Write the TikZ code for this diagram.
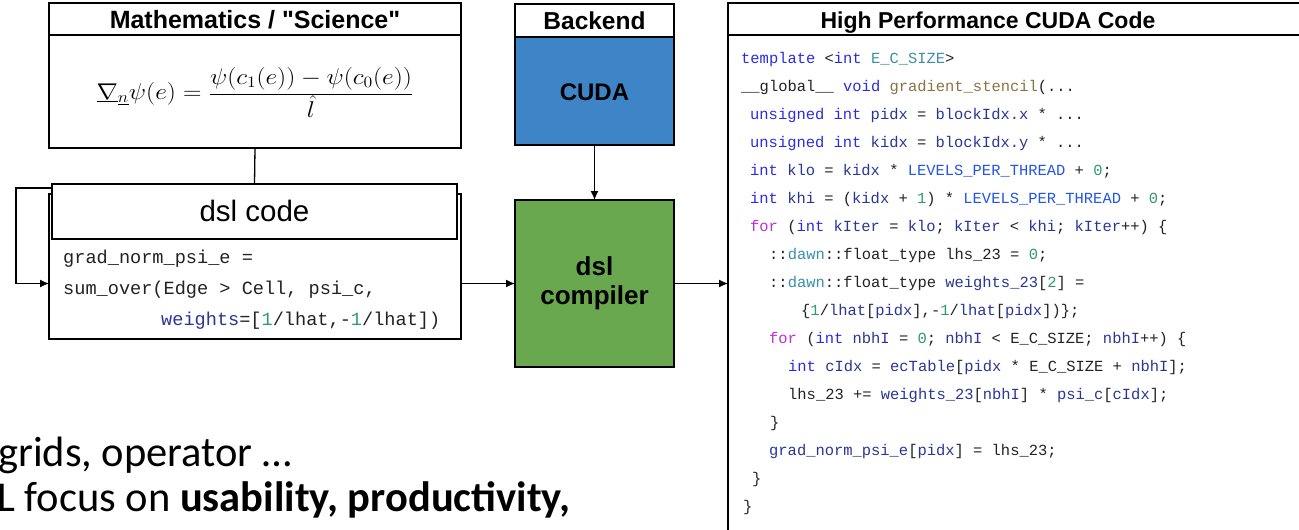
\documentclass[tikz,border=0pt]{standalone}
\usepackage{fontspec}
\usepackage{graphicx}
\usetikzlibrary{arrows.meta,calc}

\newfontfamily\hdfont{Liberation Sans}
\newfontfamily\codefont{Liberation Mono}
\newfontfamily\slidefont{Carlito}

% syntax colours of the code listings
\definecolor{ink}{HTML}{222222}
\definecolor{kwcol}{HTML}{2B2BE3}
\definecolor{ctlcol}{HTML}{C02ED6}
\definecolor{numcol}{HTML}{2E9A6E}
\definecolor{fncol}{HTML}{8A7243}
\definecolor{varcol}{HTML}{2A3596}
\definecolor{typecol}{HTML}{3A90AA}
\definecolor{maccol}{HTML}{2456E6}
\definecolor{cudablue}{HTML}{3D85C6}
\definecolor{compgreen}{HTML}{6AA84F}

\newcommand\ckw[1]{\textcolor{kwcol}{#1}}
\newcommand\cctl[1]{\textcolor{ctlcol}{#1}}
\newcommand\cnum[1]{\textcolor{numcol}{#1}}
\newcommand\cfn[1]{\textcolor{fncol}{#1}}
\newcommand\cvar[1]{\textcolor{varcol}{#1}}
\newcommand\ctype[1]{\textcolor{typecol}{#1}}
\newcommand\cmac[1]{\textcolor{maccol}{#1}}

\tikzset{
  box/.style={draw=black, line width=1.6pt, rectangle, inner sep=0pt, outer sep=0pt, anchor=north west},
  title/.style={font=\hdfont\bfseries\fontsize{23}{26}\selectfont, text=black, inner sep=0pt, anchor=base},
  conn/.style={draw=black, line width=1.3pt},
  arr/.style={conn, -{Latex[length=9pt,width=8pt]}},
  codeline/.style={anchor=base west, inner sep=0pt, text=ink,
    font=\codefont\fontsize{15.45}{18}\selectfont\frenchspacing},
  dslline/.style={anchor=base west, inner sep=0pt, text=ink,
    font=\codefont\fontsize{18.6}{22}\selectfont\frenchspacing},
  slide/.style={anchor=base west, inner sep=0pt, text=black,
    font=\slidefont\fontsize{42.5}{46}\selectfont},
}

\begin{document}
\begin{tikzpicture}[x=1pt,y=-1pt]
\useasboundingbox (0,0) rectangle (1299,530);
\clip (0,0) rectangle (1299,530);

% --- mathematics box
\node[box, minimum width=412pt, minimum height=32pt] (mathhdr) at (49,3) {};
\node[title, font=\hdfont\bfseries\fontsize{25}{28}\selectfont] (mathtitle) at (255,28.5) {Mathematics / "Science"};
\node[box, minimum width=412pt, minimum height=113pt] (mathbody) at (49,35) {};
\node[inner sep=0pt, anchor=base] (formula) at (255,99.5) {\fontsize{20.74}{25}\selectfont\scalebox{1.235}[1.10]{$\displaystyle\underline{\nabla}_{\underline{n}}\psi(e)=\frac{\psi(c_1(e))-\psi(c_0(e))}{\hat{l}}$}};

% --- dsl code box (body behind, header on top)
\node[box, fill=white, minimum width=412pt, minimum height=145pt] (dslbody) at (49,194) {};
\node[box, fill=white, minimum width=405pt, minimum height=55pt] (dslhdr) at (52,184) {};
\node[inner sep=0pt, anchor=base, font=\hdfont\fontsize{29.5}{32}\selectfont] (dsltitle) at (254.5,221.5) {dsl code};
\node[dslline] (d1) at (63,263) {grad\_norm\_psi\_e =};
\node[dslline] (d2) at (63,294) {sum\_over(Edge > Cell, psi\_c,};
\node[dslline] (d3) at (161,325) {\cvar{weights}=[\cnum{1}/lhat,-\cnum{1}/lhat])};

% --- backend box
\node[box, fill=white, minimum width=159pt, minimum height=33pt] (backhdr) at (515,4) {};
\node[title, font=\hdfont\bfseries\fontsize{24.5}{27}\selectfont] (backtitle) at (594.5,29.5) {Backend};
\node[box, fill=cudablue, minimum width=159pt, minimum height=108pt] (cuda) at (515,37) {};
\node[title, font=\hdfont\bfseries\fontsize{24}{27}\selectfont] (cudatitle) at (594.5,100) {CUDA};

% --- compiler box
\node[box, fill=compgreen, minimum width=159pt, minimum height=167pt] (compiler) at (515,200) {};
\node[title, anchor=center, align=center, font=\hdfont\bfseries\fontsize{26}{29}\selectfont] (comptitle) at (compiler.center) {dsl\\compiler};

% --- generated code panel
\node[box, minimum width=620pt, minimum height=32pt] (codehdr) at (728,3) {};
\node[title] (codetitle) at (988,28) {High Performance CUDA Code};
\node[box, minimum width=620pt, minimum height=540pt] (codebody) at (728,35) {};

\node[codeline] (c1) at (741,63) {\ckw{template} <\ckw{int} \ctype{E\_C\_SIZE}>};
\node[codeline] (c2) at (741,91) {\_\_global\_\_ \ckw{void} \cfn{gradient\_stencil}(...};
\node[codeline] (c3) at (750,119) {\ckw{unsigned} \ckw{int} \cvar{pidx} = \cvar{blockIdx.x} * ...};
\node[codeline] (c4) at (750,147) {\ckw{unsigned} \ckw{int} \cvar{kidx} = \cvar{blockIdx.y} * ...};
\node[codeline] (c5) at (750,175) {\ckw{int} \cvar{klo} = \cvar{kidx} * \cmac{LEVELS\_PER\_THREAD} + \cnum{0};};
\node[codeline] (c6) at (750,203) {\ckw{int} \cvar{khi} = (\cvar{kidx} + \cnum{1}) * \cmac{LEVELS\_PER\_THREAD} + \cnum{0};};
\node[codeline] (c7) at (750,231) {\cctl{for} (\ckw{int} \cvar{kIter} = \cvar{klo}; \cvar{kIter} < \cvar{khi}; \cvar{kIter}++) \{};
\node[codeline] (c8) at (769,259) {::\ctype{dawn}::float\_type lhs\_23 = \cnum{0};};
\node[codeline] (c9) at (769,287) {::\ctype{dawn}::float\_type \cvar{weights\_23}[\cnum{2}] =};
\node[codeline] (c10) at (801,315) {\{\cnum{1}/\cvar{lhat}[\cvar{pidx}],-\cnum{1}/\cvar{lhat}[\cvar{pidx}])\};};
\node[codeline] (c11) at (769,343) {\cctl{for} (\ckw{int} \cvar{nbhI} = \cnum{0}; \cvar{nbhI} < E\_C\_SIZE; \cvar{nbhI}++) \{};
\node[codeline] (c12) at (788,371) {\ckw{int} \cvar{cIdx} = \cvar{ecTable}[\cvar{pidx} * E\_C\_SIZE + \cvar{nbhI}];};
\node[codeline] (c13) at (788,399) {lhs\_23 += \cvar{weights\_23}[\cvar{nbhI}] * \cvar{psi\_c}[\cvar{cIdx}];};
\node[codeline] (c14) at (770,427) {\}};
\node[codeline] (c15) at (769,455) {\cvar{grad\_norm\_psi\_e}[\cvar{pidx}] = lhs\_23;};
\node[codeline] (c16) at (752,483) {\}};
\node[codeline] (c17) at (743,511) {\}};

% --- connectors
\coordinate (loopcorner) at (16,188);
\draw[conn] (mathbody.south) -- (dslhdr.north);
\draw[arr] ([yshift=-4pt]dslhdr.north west) -- (loopcorner) |- (dslbody.west |- compiler.west);
\draw[arr] (cuda.south) -- (compiler.north);
\draw[arr] (dslbody.east |- compiler.west) -- (compiler.west);
\draw[arr] (compiler.east) -- (codebody.west |- compiler.east);

% --- slide text
\node[slide] (s1) at (-2,466) {grids, operator …};
\node[slide] (s2) at (-3,511) {L focus on \textbf{usability, productivity,}};
\end{tikzpicture}
\end{document}
